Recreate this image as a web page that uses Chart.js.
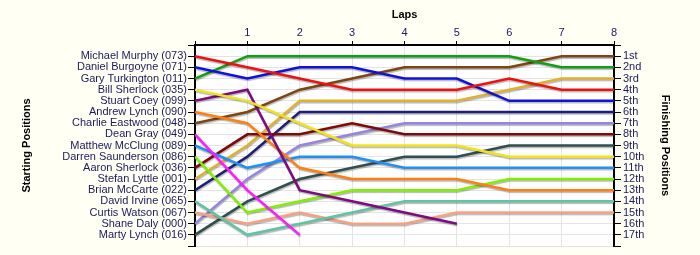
<!DOCTYPE html>
<html>
<head>
<meta charset="utf-8">
<script src="https://cdn.jsdelivr.net/npm/chart.js@4.4.1/dist/chart.umd.min.js"></script>
<style>
  html, body { margin: 0; padding: 0; background: #fffff4; }
  #wrap { width: 700px; height: 255px; }
</style>
</head>
<body>
<div id="wrap"><canvas id="lapChart"></canvas></div>
<script>
// Lap chart: starting grid on the left, finishing order on the right.
const laps = [0, 1, 2, 3, 4, 5, 6, 7, 8];
const drivers = [
  'Michael Murphy (073)', 'Daniel Burgoyne (071)', 'Gary Turkington (011)',
  'Bill Sherlock (035)', 'Stuart Coey (099)', 'Andrew Lynch (090)',
  'Charlie Eastwood (048)', 'Dean Gray (049)', 'Matthew McClung (089)',
  'Darren Saunderson (086)', 'Aaron Sherlock (036)', 'Stefan Lyttle (001)',
  'Brian McCarte (022)', 'David Irvine (065)', 'Curtis Watson (067)',
  'Shane Daly (000)', 'Marty Lynch (016)'
];
const finishLabels = ['1st', '2nd', '3rd', '4th', '5th', '6th', '7th', '8th', '9th',
  '10th', '11th', '12th', '13th', '14th', '15th', '16th', '17th'];

// position per lap (lap 0 = grid)
const murphy     = [1, 2, 3, 4, 4, 4, 3, 4, 4];
const burgoyne   = [2, 3, 2, 2, 3, 3, 5, 5, 5];
const turkington = [3, 1, 1, 1, 1, 1, 1, 2, 2];
const bSherlock  = [4, 5, 7, 9, 9, 9, 10, 10, 10];
const coey       = [5, 4, 13, 14, 15, 16];
const aLynch     = [6, 7, 11, 12, 12, 12, 13, 13, 13];
const eastwood   = [7, 6, 4, 3, 2, 2, 2, 1, 1];
const gray       = [8, 13, 17];
const mcclung    = [9, 11, 10, 10, 11, 11, 11, 11, 11];
const saunderson = [10, 15, 14, 13, 13, 13, 12, 12, 12];
const aSherlock  = [11, 8, 8, 7, 8, 8, 8, 8, 8];
const lyttle     = [12, 9, 5, 5, 5, 5, 4, 3, 3];
const mccarte    = [13, 10, 6, 6, 6, 6, 6, 6, 6];
const irvine     = [14, 17, 16, 15, 14, 14, 14, 14, 14];
const watson     = [15, 16, 15, 16, 16, 15, 15, 15, 15];
const daly       = [16, 12, 9, 8, 7, 7, 7, 7, 7];
const mLynch     = [17, 14, 12, 11, 10, 10, 9, 9, 9];

const series = [murphy, burgoyne, turkington, bSherlock, coey, aLynch, eastwood, gray,
  mcclung, saunderson, aSherlock, lyttle, mccarte, irvine, watson, daly, mLynch];
const colors = ['#ee1111', '#1111dd', '#11a011', '#f2e21e', '#7d0a80', '#ff7f10',
  '#7f4510', '#ff1aff', '#2090f5', '#7ff000', '#800808', '#e0b030', '#1e1e7a',
  '#62c3a2', '#f5a283', '#9685e0', '#2f4f4f'];

const textColor = '#1a1a5e';
const gridColor = '#e4e4e4';

const chartBg = {
  id: 'chartBg',
  beforeDraw(chart) {
    const { ctx, chartArea: a } = chart;
    ctx.save();
    ctx.fillStyle = '#ffffff';
    ctx.fillRect(a.left, a.top, a.right - a.left, a.bottom - a.top);
    ctx.restore();
  }
};

// soft drop shadow under the lines
const lineShadow = {
  id: 'lineShadow',
  beforeDatasetsDraw(chart) {
    const ctx = chart.ctx;
    ctx.save();
    ctx.shadowColor = 'rgba(0,0,0,0.28)';
    ctx.shadowBlur = 1;
    ctx.shadowOffsetX = 0.5;
    ctx.shadowOffsetY = 1.5;
  },
  afterDatasetsDraw(chart) {
    chart.ctx.restore();
  }
};

const font = { family: '"Liberation Sans", Arial, sans-serif', size: 11 };
const titleFont = { family: '"Liberation Sans", Arial, sans-serif', size: 11, weight: 'bold' };

new Chart(document.getElementById('lapChart'), {
  type: 'line',
  data: {
    labels: laps,
    datasets: series.map((d, i) => ({
      label: drivers[i],
      data: d,
      borderColor: colors[i],
      borderWidth: 2.5,
      pointRadius: 0,
      tension: 0,
      fill: false,
      yAxisID: 'y'
    }))
  },
  options: {
    responsive: true,
    maintainAspectRatio: false,
    animation: false,
    layout: { padding: { bottom: 9 } },
    plugins: { legend: { display: false }, tooltip: { enabled: false } },
    scales: {
      x: {
        type: 'linear',
        position: 'top',
        min: 0, max: 8,
        ticks: {
          stepSize: 1, color: textColor, font, padding: 1,
          callback: v => (v === 0 ? '' : v)
        },
        grid: { color: gridColor, tickColor: '#000', tickLength: 4 },
        border: { color: '#000', width: 2 },
        title: { display: true, text: 'Laps', color: '#000', font: titleFont, padding: { top: 8, bottom: 0 } },
        afterFit(scale) { scale.height = 45; }
      },
      y: {
        type: 'linear',
        position: 'left',
        reverse: true,
        min: 0, max: 18,
        ticks: {
          stepSize: 1, color: textColor, font, padding: 1, autoSkip: false,
          callback: v => drivers[v - 1] || ''
        },
        grid: { color: gridColor, tickColor: '#000', tickLength: 7 },
        border: { color: '#000', width: 2 },
        title: { display: true, text: 'Starting Positions', color: '#000', font: titleFont, padding: { top: 20, bottom: 0 } },
        afterFit(scale) { scale.width = 195; }
      },
      y2: {
        type: 'linear',
        position: 'right',
        reverse: true,
        min: 0, max: 18,
        ticks: {
          stepSize: 1, color: textColor, font, padding: 2, autoSkip: false,
          callback: v => finishLabels[v - 1] || ''
        },
        grid: { drawOnChartArea: false, tickColor: '#000', tickLength: 7 },
        border: { color: '#000', width: 2 },
        title: { display: true, text: 'Finishing Positions', color: '#000', font: titleFont, padding: { top: 28, bottom: 0 } },
        afterFit(scale) { scale.width = 86; }
      }
    }
  },
  plugins: [chartBg, lineShadow]
});
</script>
</body>
</html>
